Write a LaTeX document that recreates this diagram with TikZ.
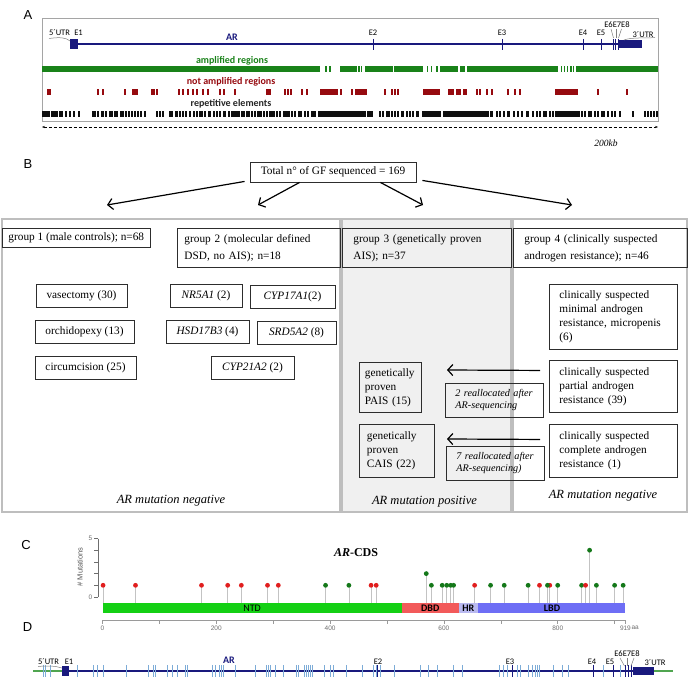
\documentclass[tikz,border=0pt]{standalone}
\usepackage{fontspec}
\setmainfont{Liberation Serif}
\newfontfamily\labelsans{Liberation Sans}
\newfontfamily\genesans{Carlito}
\usetikzlibrary{arrows.meta, positioning, calc}
\definecolor{arnavy}{RGB}{25,25,125}
\definecolor{ampgreen}{RGB}{25,130,25}
\definecolor{notred}{RGB}{150,10,15}
\definecolor{repblack}{RGB}{15,15,15}
\definecolor{framegray}{RGB}{165,165,165}
\definecolor{panelgray}{RGB}{190,190,190}
\definecolor{panelfill}{RGB}{240,240,240}
\definecolor{boxdark}{RGB}{45,45,45}
\definecolor{ntdgreen}{RGB}{20,208,20}
\definecolor{dbdred}{RGB}{242,90,90}
\definecolor{hrlilac}{RGB}{185,185,240}
\definecolor{lbdblue}{RGB}{110,110,245}
\definecolor{mutred}{RGB}{225,30,30}
\definecolor{mutgreen}{RGB}{20,120,25}
\definecolor{stemgray}{RGB}{195,195,195}
\definecolor{axisgray}{RGB}{110,110,110}
\definecolor{intronblue}{RGB}{125,172,215}
\definecolor{utrgreen}{RGB}{80,165,80}
\newcommand{\boxfont}{\fontsize{11.3}{14}\selectfont}
\newcommand{\notefont}{\itshape\fontsize{10.2}{12}\selectfont}
\pgfmathdeclarefunction{aax}{1}{\pgfmathparse{102.5+0.569*#1}}
\tikzset{
  panellab/.style={font=\labelsans\fontsize{13}{13}\selectfont, inner sep=0pt},
  genelab/.style={font=\genesans\fontsize{8.5}{9}\selectfont, inner sep=0pt},
  tracklab/.style={font=\genesans\bfseries\fontsize{10}{10}\selectfont, inner sep=0pt},
  leader/.style={draw=gray, line width=0.5pt},
  hdrbox/.style={rectangle, draw=boxdark, line width=0.9pt, anchor=north west,
    align=left, font=\boxfont, inner ysep=1pt},
  subbox/.style={rectangle, draw=boxdark, line width=0.9pt, minimum height=23pt,
    font=\boxfont, inner sep=0pt},
  infobox/.style={rectangle, draw=boxdark, line width=0.9pt, anchor=north west,
    align=left, font=\boxfont, inner ysep=1pt},
  notebox/.style={rectangle, draw=boxdark, line width=0.9pt, anchor=north west,
    align=left, font=\notefont, inner ysep=1pt},
  arrow/.style={-{Straight Barb[length=5pt,width=11pt]}, line width=1.2pt, color=black},
  panelline/.style={draw=panelgray, line width=1.1pt},
  resultlab/.style={font=\itshape\fontsize{12.5}{13}\selectfont, inner sep=0pt},
  ticklab/.style={font=\labelsans\fontsize{6.5}{7}\selectfont, text=axisgray, inner sep=0pt},
  domainlab/.style={font=\genesans\fontsize{10}{10}\selectfont, inner sep=0pt}
}

\begin{document}
\begin{tikzpicture}[x=1pt, y=-1pt]
  \useasboundingbox (0,0) rectangle (688,692);
  \fill[white] (0,0) rectangle (688,692);

  % ---------------- Panel A: AR locus ----------------
  \node[panellab] (labA) at (28,15) {A};
  \draw[framegray, line width=1pt] (42,19) rectangle (658,122);

  % gene model
  \draw[arnavy, line width=1.6pt] (74,44) -- (630,44);
  \fill[arnavy] (70,39) rectangle (78,49);
  \fill[arnavy] (619,40) rectangle (642,48);
  \foreach \x in {373,502,583,601,613,615.5,618}
    \draw[arnavy, line width=0.8pt] (\x,39) -- (\x,50);
  \node[genelab] (utrA) at (59.5,33) {5´UTR};
  \node[genelab] (exA1) at (78.5,32.5) {E1};
  \foreach \x/\t in {373/E2, 502/E3, 583/E4, 601/E5}
    \node[genelab] (exA\t) at (\x,33) {\t};
  \node[genelab] (exA678) at (617,25) {E6E7E8};
  \node[genelab] (utrA3) at (643,35) {3´UTR};
  \node[font=\genesans\bfseries\fontsize{10}{10}\selectfont, text=arnavy, inner sep=0pt] (arA) at (232,37) {AR};
  \draw[leader] (49,38.5) .. controls (60,37) and (66,37.5) .. (70,41);
  \draw[leader] (611,29) -- (613.5,38);
  \draw[leader] (616,29) -- (616,38);
  \draw[leader] (621.5,29) -- (618.5,38);
  \draw[leader] (624,40) .. controls (632,37) and (645,38.5) .. (655,37.5);

  % tracks
  \node[tracklab, text=ampgreen] (amp) at (232,61) {amplified regions};
  \node[tracklab, text=notred] (notamp) at (231,82) {not amplified regions};
  \node[tracklab, text=black!85] (rep) at (231,104) {repetitive elements};

  \foreach \a/\b in {42/320, 324.5/326.5, 328.5/330.5, 340/357, 358/359.5, 361/362,
      365/393, 394/423, 426.5/428, 430.5/432, 436/438, 440/458, 460/465, 467/558,
      560.5/562, 563.5/565, 566.5/568, 570/571.5, 573/574, 575.5/658}
    \fill[ampgreen] (\a,66) rectangle (\b,72);

  \foreach \a/\b in {47/51, 266/271, 320/338, 355/367, 423/440, 448/454, 456/461,
      463/467, 555/578}
    \fill[notred] (\a,89) rectangle (\b,95);
  \foreach \x in {98,103,125,133,135,137,152,154,157,179,183,188,193,197,203,208,
      220,224,235,285,288,291,302,307,341,352,385,392,395,398,477,480,487,492,
      508,515,520,598,627}
    \fill[notred] ({\x-0.8},89) rectangle ({\x+0.8},95);

  \foreach \a/\b in {51/58, 92/96, 101/104, 109/113, 120/124, 175/178, 189/191,
      208/211, 223/226, 233/240, 246/250, 257/262, 269/275, 283/290, 298/302,
      311/316, 318/366, 386/390, 401/404, 416/419, 422/441, 443/487, 490/493,
      507/510, 526/529, 543/547, 557/580, 588/592, 601/605}
    \fill[repblack] (\a,111) rectangle (\b,117);
  \foreach \x in {43,45,47,49,60,62,66,70,74,79,98,106,115,117,126,129,132,135,
      138,141,145,157,160,163,170,172,180,183,186,194,197,200,202,205,214,217,
      220,229,232,242,244,252,255,264,267,277,280,292,295,305,308,368,370,372,
      380,383,392,395,398,407,410,413,488,497,500,504,514,518,522,533,537,540,
      550,553,556,582,585,595,598,608,612,615,620,633,645,648,651,654,657}
    \fill[repblack] ({\x-0.7},111) rectangle ({\x+0.7},117);

  % scale bar
  \coordinate (sbL) at (42,127);
  \coordinate (sbR) at (658,127);
  \draw[densely dashed, line width=0.6pt, {Stealth[length=3pt]}-{Stealth[length=3pt]}] (sbL) -- (sbR);
  \node[font=\itshape\fontsize{9.5}{10}\selectfont, inner sep=0pt] (kb) at (606,143) {200kb};

  % ---------------- Panel B: study groups ----------------
  \node[panellab] (labB) at (28,164) {B};
  \node[rectangle, draw=boxdark, line width=0.9pt, font=\boxfont, minimum width=166pt,
    minimum height=20pt, inner sep=0pt] (total) at (333,172) {Total n° of GF sequenced = 169};

  \coordinate (toG1) at (107,205);
  \coordinate (toG2) at (258,205);
  \coordinate (toG3) at (423,205);
  \coordinate (toG4) at (572,205);
  \draw[arrow] ($(total.south west)+(-5,-1)$) -- (toG1);
  \draw[arrow] ($(total.south west)+(50,0)$) -- (toG2);
  \draw[arrow] ($(total.south east)+(-36,0)$) -- (toG3);
  \draw[arrow] ($(total.south east)+(6,-2)$) -- (toG4);

  % panels
  \draw[panelline] (2,219) rectangle (340,512);
  \filldraw[panelline, fill=panelfill] (342,219) rectangle (511,512);
  \draw[panelline] (513,219) rectangle (687,512);

  % group headers
  \node[hdrbox, minimum height=19pt, inner xsep=6pt] (grp1) at (2,228) {group 1 (male controls); n=68};
  \node[hdrbox, text width=149pt, inner xsep=7pt, minimum height=39pt] (grp2) at (177,228)
    {group 2 (molecular defined\\[3pt]DSD, no AIS); n=18};
  \node[hdrbox, fill=panelfill, text width=147pt, inner xsep=11pt, minimum height=39pt] (grp3) at (342,228)
    {group 3 (genetically proven\\[3pt]AIS); n=37};
  \node[hdrbox, text width=152pt, inner xsep=11pt, minimum height=39pt] (grp4) at (513,228)
    {group 4 (clinically suspected\\[3pt]androgen resistance); n=46};

  % group 1 and group 2 entries
  \node[subbox, minimum width=91pt] (vas) at (81.5,295.5) {vasectomy (30)};
  \node[subbox, minimum width=99pt] (orch) at (84.5,331.5) {orchidopexy (13)};
  \node[subbox, minimum width=101pt] (circ) at (85.5,367.5) {circumcision (25)};
  \node[subbox, minimum width=72pt] (nr5) at (206,295.5) {\textit{NR5A1} (2)};
  \node[subbox, minimum width=85pt] (cyp17) at (292.5,296.5) {\textit{CYP17A1}(2)};
  \node[subbox, minimum width=83pt] (hsd) at (207.5,331.5) {\textit{HSD17B3} (4)};
  \node[subbox, minimum width=79pt] (srd) at (296.5,332.5) {\textit{SRD5A2} (8)};
  \node[subbox, minimum width=83pt] (cyp21) at (252.5,367.5) {\textit{CYP21A2} (2)};

  % group 4 entries
  \node[infobox, text width=108pt, inner xsep=10pt, minimum height=65pt] (minimal) at (549,284)
    {clinically suspected\\minimal androgen\\resistance, micropenis\\(6)};
  \node[infobox, text width=108pt, inner xsep=10pt, minimum height=52pt] (partial) at (549,360)
    {clinically suspected\\partial androgen\\resistance (39)};
  \node[infobox, text width=108pt, inner xsep=10pt, minimum height=53pt] (complete) at (549,424)
    {clinically suspected\\complete androgen\\resistance (1)};

  % group 3 entries
  \node[infobox, text width=51pt, inner xsep=5.5pt, minimum height=50pt] (pais) at (359,362)
    {genetically\\proven\\PAIS (15)};
  \node[infobox, text width=60pt, inner xsep=7.5pt, minimum height=53pt] (cais) at (359,424)
    {genetically\\proven\\CAIS (22)};
  \node[notebox, text width=78pt, inner xsep=10pt, minimum height=34pt] (note1) at (445,383)
    {2 reallocated after\\AR-sequencing};
  \node[notebox, text width=78pt, inner xsep=10pt, minimum height=34pt] (note2) at (446,446)
    {7 reallocated after\\AR-sequencing)};

  % reallocation arrows
  \draw[arrow] ($(partial.west)+(-9,-16)$) -- ($(note1.north west)+(2,-13)$);
  \draw[arrow] ($(complete.west)+(-9,-11.5)$) -- ($(note2.north west)+(1,-7)$);

  \node[resultlab] (neg1) at (171,501) {AR mutation negative};
  \node[resultlab] (pos3) at (424.5,502) {AR mutation positive};
  \node[resultlab] (neg4) at (603,496) {AR mutation negative};

  % ---------------- Panel C: AR-CDS mutations ----------------
  \node[panellab] (labC) at (26,545) {C};
  \node[font=\bfseries\fontsize{12}{12}\selectfont, inner sep=0pt] (cds) at (356,553) {\textit{AR}-CDS};

  % y axis
  \draw[axisgray, line width=0.6pt] (98,538.5) -- (98,597);
  \foreach \k in {0,...,5}
    \draw[axisgray, line width=0.6pt] (94,{597-11.7*\k}) -- (98,{597-11.7*\k});
  \node[ticklab, anchor=east] (y0) at (92.5,597) {0};
  \node[ticklab, anchor=east] (y5) at (92.5,538.5) {5};
  \node[font=\labelsans\fontsize{7.5}{8}\selectfont, text=axisgray!80!black, rotate=90, inner sep=0pt] (ylab) at (80,567) {\# Mutations};

  % mutations
  \foreach \a/\n/\c in {1/1/mutred, 58/1/mutred, 174/1/mutred, 220/1/mutred, 244/1/mutred,
      290/1/mutred, 309/1/mutred, 392/1/mutgreen, 433/1/mutgreen, 472/1/mutred,
      481/1/mutred, 569/2/mutgreen, 578/1/mutgreen, 597/1/mutgreen, 605/1/mutgreen,
      612/1/mutgreen, 617/1/mutgreen, 654/1/mutred, 682/1/mutgreen, 706/1/mutgreen,
      748/1/mutgreen, 768/1/mutred, 786/1/mutred, 782/1/mutgreen, 800/1/mutgreen,
      842/1/mutgreen, 849/1/mutred, 856/4/mutgreen, 868/1/mutgreen, 900/1/mutgreen,
      915/1/mutgreen}
  {
    \draw[stemgray, line width=0.7pt] ({aax(\a)},{597-11.7*\n}) -- ({aax(\a)},603);
    \fill[\c] ({aax(\a)},{597-11.7*\n}) circle[radius=2.4pt];
  }

  % protein domains
  \fill[ntdgreen] ({aax(0)},603) rectangle ({aax(527)},613);
  \fill[dbdred] ({aax(527)},603) rectangle ({aax(626)},613);
  \fill[hrlilac] ({aax(626)},603) rectangle ({aax(660)},613);
  \fill[lbdblue] ({aax(660)},603) rectangle ({aax(919)},613);
  \node[domainlab] (ntd) at ({aax(263)},608) {NTD};
  \node[domainlab, font=\genesans\bfseries\fontsize{10}{10}\selectfont] (dbd) at ({aax(576)},608) {DBD};
  \node[domainlab, font=\genesans\bfseries\fontsize{10}{10}\selectfont] (hr) at ({aax(643)},608) {HR};
  \node[domainlab, font=\genesans\bfseries\fontsize{10}{10}\selectfont] (lbd) at ({aax(790)},608) {LBD};

  % x axis
  \draw[axisgray!70, line width=0.6pt] ({aax(0)},620) -- ({aax(919)},620);
  \foreach \a in {0,100,...,900,919}
    \draw[axisgray!70, line width=0.6pt] ({aax(\a)},620) -- ({aax(\a)},623.5);
  \foreach \a in {0,200,400,600,800,919}
    \node[ticklab] (xt\a) at ({aax(\a)},628) {\a};
  \node[ticklab, anchor=west] (aaunit) at ({aax(919)+6},628) {aa};

  % ---------------- Panel D: AR locus with variants ----------------
  \node[panellab] (labD) at (27.5,627) {D};
  \draw[utrgreen, line width=1.1pt] (33,671) -- (62,671);
  \draw[utrgreen, line width=1.1pt] (654,671) -- (673,671);
  \draw[arnavy, line width=1.6pt] (69,671) -- (633,671);
  \foreach \x in {43,45,50,77,93,97,103,126,148,153,155,167,172,177,185,187,212,215,
      219,221,223,235,255,266,268,270,275,283,296,298,304,306,308,310,312,324,330,
      333,346,362,373,376,380,394,420,428,437,453,462,499,503,507,517,520,528,532,
      535,537,539,553,562,568,603,620}
    \draw[intronblue, line width=0.7pt] (\x,665) -- (\x,677);
  \fill[arnavy] (62,666) rectangle (69,676);
  \fill[arnavy] (633,667) rectangle (654,675);
  \foreach \x in {377,512,593,613,625,628,631}
    \draw[arnavy, line width=0.9pt] (\x,665) -- (\x,677);
  \node[genelab] (utrD) at (48.5,662) {5´UTR};
  \node[genelab] (exD1) at (69,661.5) {E1};
  \foreach \x/\t in {378/E2, 510/E3, 592/E4, 610/E5}
    \node[genelab] (exD\t) at (\x,662) {\t};
  \node[genelab] (exD678) at (627,654) {E6E7E8};
  \node[genelab] (utrD3) at (655,663) {3´UTR};
  \node[font=\genesans\bfseries\fontsize{10}{10}\selectfont, text=arnavy, inner sep=0pt] (arD) at (229,660) {AR};
  \draw[leader] (38,666.5) .. controls (48,665.5) and (56,666) .. (62,668);
  \draw[leader] (620,658) -- (624.5,666);
  \draw[leader] (627.5,658) -- (627.5,666);
  \draw[leader] (634,658) -- (631,666);
\end{tikzpicture}
\end{document}
